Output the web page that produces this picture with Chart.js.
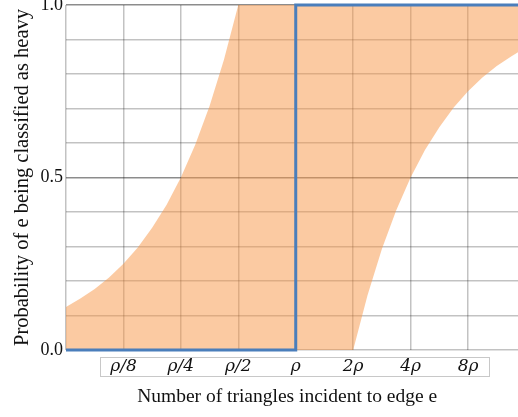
<!DOCTYPE html>
<html>
<head>
<meta charset="utf-8">
<script src="https://cdn.jsdelivr.net/npm/chart.js@4"></script>
<style>
  body { margin: 0; background: #fff; }
  canvas { display: block; }
</style>
</head>
<body>
<canvas id="chartProb" width="518" height="417"></canvas>
<script>
// dane
const xPoints = [0, 0.25, 0.5, 0.75, 1, 1.25, 1.5, 1.75, 2, 2.25, 2.5, 2.75, 3,
    3.25, 3.5, 3.75, 4, 4.25, 4.5, 4.75, 5, 5.25, 5.5, 5.75, 6, 6.25, 6.5, 6.75,
    7, 7.25, 7.5, 7.75, 7.87];
const upperBound = [0.125, 0.149, 0.177, 0.21, 0.25, 0.297, 0.354, 0.42, 0.5, 0.595, 0.707, 0.841, 1,
    1, 1, 1, 1, 1, 1, 1, 1, 1, 1, 1, 1, 1, 1, 1,
    1, 1, 1, 1, 1];
const lowerBound = [0, 0, 0, 0, 0, 0, 0, 0, 0, 0, 0, 0, 0,
    0, 0, 0, 0, 0, 0, 0, 0, 0.159, 0.293, 0.405, 0.5, 0.58, 0.646, 0.703,
    0.75, 0.79, 0.823, 0.851, 0.863];
const stepX = [0, 4, 4, 7.87];
const stepY = [0, 0, 1, 1];
const xTickValues = [0, 1, 2, 3, 4, 5, 6, 7];
const xTickLabels = ['', 'ρ/8', 'ρ/4', 'ρ/2', 'ρ', '2ρ', '4ρ', '8ρ'];
const yTickValues = [0, 0.1, 0.2, 0.3, 0.4, 0.5, 0.6, 0.7, 0.8, 0.9, 1];
const yTickLabels = ['0.0', '', '', '', '', '0.5', '', '', '', '', '1.0'];

const toPts = (xs, ys) => xs.map((x, i) => ({ x: x, y: ys[i] }));

// ramka wokół etykiet osi X
const tickBox = {
    id: 'tickBox',
    afterDraw(chart) {
        const ctx = chart.ctx;
        const xs = chart.scales.x;
        const x0 = Math.round(xs.getPixelForValue(0.585)) + 0.5;
        const x1 = Math.round(xs.getPixelForValue(7.37)) + 0.5;
        const y0 = chart.chartArea.bottom + 7.5;
        ctx.save();
        ctx.strokeStyle = '#c8c8c8';
        ctx.lineWidth = 1;
        ctx.strokeRect(x0, y0, x1 - x0, 19);
        ctx.restore();
    }
};

const serif = 'Liberation Serif, Times New Roman, serif';

new Chart(document.getElementById('chartProb'), {
    type: 'line',
    data: {
        datasets: [
            {
                data: toPts(stepX, stepY),
                borderColor: '#4a7ebb',
                borderWidth: 3,
                pointRadius: 0,
                fill: false,
                clip: 6
            },
            {
                data: toPts(xPoints, upperBound),
                borderWidth: 0,
                borderColor: 'rgba(0,0,0,0)',
                backgroundColor: 'rgba(247,150,70,0.5)',
                pointRadius: 0,
                fill: '+1'
            },
            {
                data: toPts(xPoints, lowerBound),
                borderWidth: 0,
                borderColor: 'rgba(0,0,0,0)',
                pointRadius: 0,
                fill: false
            }
        ]
    },
    options: {
        responsive: false,
        animation: false,
        layout: { padding: { top: 5, left: 0, right: 0, bottom: 0 } },
        plugins: { legend: { display: false }, tooltip: { enabled: false } },
        scales: {
            x: {
                type: 'linear',
                min: 0,
                max: 7.87,
                afterFit: s => { s.height = 67; s.paddingLeft = 0; s.paddingRight = 0; },
                afterBuildTicks: s => { s.ticks = xTickValues.map(v => ({ value: v })); },
                border: { display: false },
                grid: { color: 'rgba(0,0,0,0.24)', lineWidth: 1.5, drawTicks: false },
                ticks: {
                    autoSkip: false,
                    maxRotation: 0,
                    padding: 6,
                    color: '#111',
                    font: { family: 'DejaVu Serif', size: 17, style: 'italic' },
                    callback: v => xTickLabels[xTickValues.indexOf(v)] || ''
                },
                title: {
                    display: true,
                    text: 'Number of triangles incident to edge e  ',
                    color: '#111',
                    font: { family: serif, size: 19.5 },
                    padding: { top: 0, bottom: 8 }
                }
            },
            y: {
                min: 0,
                max: 1,
                afterFit: s => { s.width = 66; s.paddingTop = 0; s.paddingBottom = 0; },
                afterBuildTicks: s => { s.ticks = yTickValues.map(v => ({ value: v })); },
                border: { display: false },
                grid: {
                    color: c => (c.tick && [0.5, 1].includes(c.tick.value)) ? 'rgba(0,0,0,0.45)' : 'rgba(0,0,0,0.24)',
                    lineWidth: 1.5,
                    drawTicks: false
                },
                ticks: {
                    autoSkip: false,
                    padding: 3,
                    color: '#111',
                    font: { family: serif, size: 18 },
                    callback: v => yTickLabels[yTickValues.indexOf(v)] || ''
                },
                title: {
                    display: true,
                    text: 'Probability of e being classified as heavy',
                    color: '#111',
                    font: { family: serif, size: 20.5 },
                    padding: { top: 10, bottom: 0 }
                }
            }
        }
    },
    plugins: [tickBox]
});
</script>
</body>
</html>
